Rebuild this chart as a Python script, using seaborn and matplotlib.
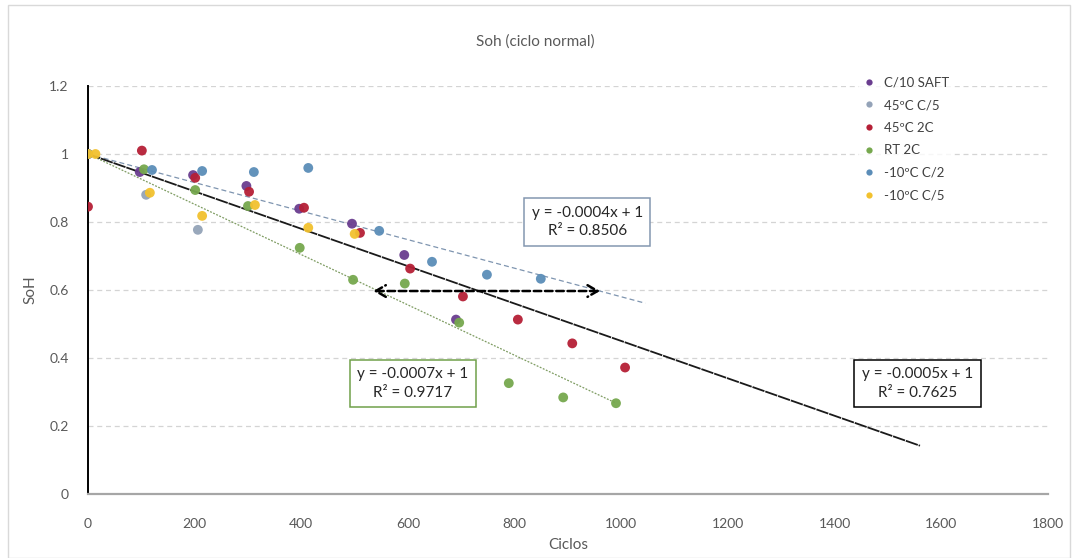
import numpy as np
import pandas as pd
import matplotlib
matplotlib.use("Agg")
import matplotlib.pyplot as plt
from matplotlib.patches import Rectangle
from matplotlib.ticker import FuncFormatter
import seaborn as sns

# --- data -----------------------------------------------------------------
series_names = ["C/10 SAFT", "45ºC C/5", "45ºC 2C", "RT 2C", "-10ºC C/2", "-10ºC C/5"]

saft_x = [0, 97, 197, 297, 396, 495, 593, 690]
saft_y = [1.0, 0.947, 0.938, 0.906, 0.839, 0.795, 0.703, 0.513]

c5_45_x = [109, 206]
c5_45_y = [0.880, 0.777]

c2_45_x = [0, 101, 201, 302, 405, 510, 604, 703, 806, 908, 1007]
c2_45_y = [0.845, 1.01, 0.930, 0.889, 0.842, 0.768, 0.663, 0.581, 0.513, 0.443, 0.372]

rt_x = [0, 105, 201, 300, 397, 497, 594, 696, 789, 891, 990]
rt_y = [1.0, 0.955, 0.894, 0.847, 0.724, 0.630, 0.619, 0.504, 0.326, 0.284, 0.267]

c2_m10_x = [0, 120, 214, 311, 413, 546, 645, 748, 849]
c2_m10_y = [1.0, 0.953, 0.950, 0.947, 0.959, 0.774, 0.683, 0.645, 0.633]

c5_m10_x = [0, 14, 116, 214, 313, 413, 500]
c5_m10_y = [1.0, 1.0, 0.886, 0.818, 0.850, 0.783, 0.765]

# linear trends (intercept fixed at 1)
trend_slopes = [-0.00042, -0.00074, -0.00055]
trend_ends = [1045, 990, 1560]
trend_labels = ["y = -0.0004x + 1\nR² = 0.8506",
                "y = -0.0007x + 1\nR² = 0.9717",
                "y = -0.0005x + 1\nR² = 0.7625"]

# range marked by the double arrow
arrow_x = [535, 960]
arrow_y = 0.597

colors = ["#6A3D8F", "#94A3B8", "#B51F36", "#76A84E", "#5B8DB8", "#F2C12E"]

# --- build table ------------------------------------------------------------
frames = []
for name, xs, ys in zip(series_names,
                        [saft_x, c5_45_x, c2_45_x, rt_x, c2_m10_x, c5_m10_x],
                        [saft_y, c5_45_y, c2_45_y, rt_y, c2_m10_y, c5_m10_y]):
    frames.append(pd.DataFrame({"Ciclos": xs, "SoH": ys, "Serie": name}))
df = pd.DataFrame(pd.concat(frames, ignore_index=True))

# --- figure -----------------------------------------------------------------
sns.set_theme(style="white")
plt.rcParams["font.family"] = ["Lato", "DejaVu Sans"]

W, H = 1076, 558
fig = plt.figure(figsize=(W / 100, H / 100), dpi=100)
fig.patch.set_facecolor("white")
fig.patches.append(Rectangle((8 / W, 0), (1070 - 8) / W, (H - 5) / H,
                             transform=fig.transFigure, fill=False,
                             edgecolor="#D9D9D9", linewidth=1.0))

ax = fig.add_axes([88 / W, 1 - 494 / H, (1048 - 88) / W, (494 - 86) / H])
ax.set_facecolor("white")

# horizontal gridlines
for gy in [0.2, 0.4, 0.6, 0.8, 1.0, 1.2]:
    ax.axhline(gy, color="#D4D4D4", lw=0.9, ls=(0, (4, 3)), zorder=0)

# trend lines
trend_styles = [dict(color="#7F95B0", lw=0.9, ls=(0, (4, 2.5))),
                dict(color="#7E9C62", lw=0.9, ls=(0, (1.5, 1.2))),
                dict(color="#1A1A1A", lw=1.3, ls=(0, (7, 0.5)))]
for slope, xend, st in zip(trend_slopes, trend_ends, trend_styles):
    tx = np.array([0.0, xend])
    sns.lineplot(x=tx, y=1 + slope * tx, ax=ax, zorder=2, **st)

sns.scatterplot(data=df, x="Ciclos", y="SoH", hue="Serie",
                hue_order=series_names, palette=colors, s=50,
                edgecolor="none", alpha=0.95, ax=ax, zorder=3, legend=False)

# double arrow
ax.annotate("", xy=(arrow_x[0], arrow_y), xytext=(arrow_x[1], arrow_y),
            arrowprops=dict(arrowstyle="<->,head_length=0.6,head_width=0.35",
                            color="black", lw=1.8, ls=(0, (3, 1.5)),
                            shrinkA=0, shrinkB=0), zorder=4)

# equation boxes
box_pos = [(936, 0.80), (609, 0.325), (1555, 0.325)]
box_edges = ["#8497B0", "#70A04A", "#000000"]
for (bx, by), lab, ec in zip(box_pos, trend_labels, box_edges):
    ax.text(bx, by, lab, ha="center", va="center", fontsize=11,
            color="#262626", linespacing=1.4, zorder=5,
            bbox=dict(boxstyle="square,pad=0.5", fc="white", ec=ec, lw=1.1))

ax.set_xlim(0, 1800)
ax.set_ylim(0, 1.2)
ax.set_xticks(np.arange(0, 1801, 200))
ax.set_yticks(np.arange(0, 1.21, 0.2))
ax.yaxis.set_major_formatter(FuncFormatter(lambda v, p: f"{v:g}"))
ax.tick_params(axis="y", direction="in", length=4, width=1, color="black",
               labelsize=10, labelcolor="#595959", pad=14)
ax.tick_params(axis="x", length=0, labelsize=10, labelcolor="#595959", pad=17)

for side in ["top", "right"]:
    ax.spines[side].set_visible(False)
ax.spines["left"].set_color("black")
ax.spines["left"].set_linewidth(1.4)
ax.spines["bottom"].set_color("#A6A6A6")
ax.spines["bottom"].set_linewidth(1.6)

ax.set_xlabel("Ciclos", fontsize=11, color="#595959", labelpad=6)
ax.set_ylabel("SoH", fontsize=11, color="#595959", labelpad=8)
fig.text(535 / W, 1 - 42 / H, "Soh (ciclo normal)", ha="center", va="center",
         fontsize=11, color="#595959")

# legend
handles = [plt.Line2D([], [], ls="none", marker="o", markersize=4.5,
                      markerfacecolor=c, markeredgecolor="none") for c in colors]
leg = fig.legend(handles, series_names, loc="upper left",
                 bbox_to_anchor=(852 / W, 1 - 66 / H), frameon=True,
                 fontsize=9.5, labelcolor="#404040", handlelength=1.0,
                 handletextpad=0.6, labelspacing=0.8, borderpad=0.3)
leg.get_frame().set_facecolor("white")
leg.get_frame().set_edgecolor("white")
leg.set_zorder(6)

fig.savefig("out.png", dpi=100, facecolor="white")
